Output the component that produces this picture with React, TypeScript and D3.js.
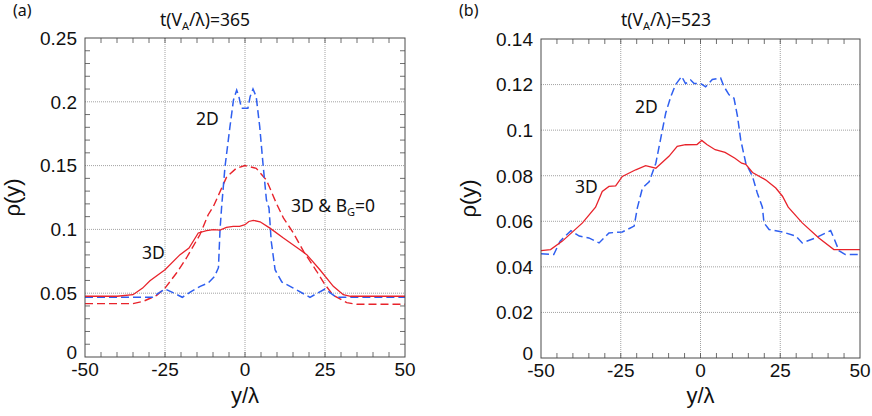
import React from "react";
import * as d3 from "d3";

// ---------- data ----------
const xTicks = [-50, -25, 0, 25, 50];
const yTicksA = [0, 0.05, 0.1, 0.15, 0.2, 0.25];
const yTicksB = [0, 0.02, 0.04, 0.06, 0.08, 0.1, 0.12, 0.14];
const yTickLabelsA = ["0", "0.05", "0.1", "0.15", "0.2", "0.25"];
const yTickLabelsB = ["0", "0.02", "0.04", "0.06", "0.08", "0.1", "0.12", "0.14"];

const a3D: [number, number][] = [
  [-50, 0.0476], [-40, 0.0476], [-35, 0.0488], [-32, 0.054], [-29.7, 0.0598], [-25, 0.0684],
  [-20.3, 0.0802], [-17.5, 0.0854], [-14.6, 0.0972], [-12, 0.099], [-9.9, 0.0998], [-7.8, 0.0995],
  [-5.8, 0.1016], [-3.7, 0.1024], [-1.7, 0.1024], [0, 0.1037], [1.2, 0.1062], [2.6, 0.1071],
  [4.7, 0.106], [7.8, 0.101], [12, 0.0932], [17.2, 0.0841], [19.3, 0.0802], [23.4, 0.0684],
  [27.6, 0.0554], [30.7, 0.0488], [33, 0.0476], [50, 0.0476],
];
const a3DBG0: [number, number][] = [
  [-50, 0.0418], [-35, 0.0418], [-31.8, 0.0436], [-27.6, 0.0483], [-25, 0.054], [-21.4, 0.0658],
  [-18.3, 0.0776], [-14.1, 0.0958], [-11.5, 0.1115], [-9.9, 0.1178], [-5.7, 0.1413], [-2.7, 0.1479],
  [0, 0.15], [3.5, 0.1479], [6.7, 0.1387], [9.8, 0.1204], [12, 0.109], [15.1, 0.0972],
  [18.3, 0.0828], [22.4, 0.0672], [25, 0.0567], [27.6, 0.0483], [31.8, 0.0426], [35, 0.0413], [50, 0.0413],
];
const a2D: [number, number][] = [
  [-50, 0.0468], [-29, 0.0468], [-25, 0.0533], [-22.5, 0.0504], [-19.6, 0.0468], [-17, 0.051],
  [-14, 0.0554], [-11.5, 0.058], [-9.5, 0.0632], [-8.3, 0.07], [-7.8, 0.1], [-7.3, 0.1178],
  [-6.25, 0.1491], [-4.7, 0.1805], [-3.6, 0.2014], [-2.6, 0.2092], [-1.9, 0.204], [-1.1, 0.1949],
  [0.9, 0.1949], [1.6, 0.204], [2.5, 0.21], [3.5, 0.204], [4.6, 0.1805], [5.6, 0.152], [6.7, 0.123],
  [7.5, 0.1168], [8.2, 0.0907], [9.4, 0.0684], [11.5, 0.0588], [15.1, 0.054], [20.3, 0.0468],
  [25, 0.0533], [28.6, 0.0468], [50, 0.0468],
];
const b3D: [number, number][] = [
  [-50, 0.0471], [-47, 0.0476], [-43.3, 0.0513], [-37, 0.0593], [-32.9, 0.0662], [-30.8, 0.0731],
  [-28.7, 0.0753], [-26.6, 0.0755], [-24.5, 0.0797], [-20.3, 0.0826], [-17.2, 0.0844], [-14, 0.0833],
  [-9.9, 0.0885], [-7.3, 0.0929], [-4.7, 0.0936], [-1.1, 0.0937], [0.4, 0.0955], [2, 0.0937],
  [4.6, 0.0914], [7.7, 0.0902], [10.8, 0.0877], [12.9, 0.0855], [14.2, 0.085], [16.3, 0.0814],
  [20.4, 0.0782], [23.6, 0.0746], [25.7, 0.071], [27.5, 0.0662], [31.9, 0.0593], [37.1, 0.0527],
  [41.8, 0.0476], [50, 0.0476],
];
const b2D: [number, number][] = [
  [-50, 0.0457], [-46, 0.0454], [-44, 0.0513], [-40.6, 0.0559], [-38, 0.0535], [-35, 0.0527],
  [-31.8, 0.0505], [-28.7, 0.0549], [-24.5, 0.0553], [-20.8, 0.0579], [-19.8, 0.0659], [-18.2, 0.0746],
  [-16.1, 0.0773], [-14, 0.0855], [-10.9, 0.1075], [-9.3, 0.1148], [-7.8, 0.12], [-5.9, 0.1236],
  [-4.7, 0.1204], [-3.1, 0.122], [-2, 0.1205], [0, 0.1205], [1.6, 0.119], [3.7, 0.1222],
  [6.3, 0.1229], [7.3, 0.1193], [8.9, 0.1156], [10.5, 0.114], [11.6, 0.106], [12.6, 0.0958],
  [14.2, 0.0855], [16.3, 0.0797], [17.8, 0.0724], [19.4, 0.0662], [19.9, 0.0593], [21.5, 0.0564],
  [25.7, 0.0553], [29.9, 0.0535], [31.9, 0.0505], [36, 0.0527], [40.8, 0.0559], [41.8, 0.0527],
  [43.4, 0.0471], [45.4, 0.0454], [50, 0.0454],
];

const RED = "#e8232b";
const BLUE = "#2f5ff0";
const TICK_FONT = "'Liberation Sans', Arial, sans-serif";
const NOTE_FONT = "'Noto Sans', 'Open Sans', sans-serif";

type Series = { data: [number, number][]; color: string; dash?: string; width: number };
type Note = { x: number; y: number; content: React.ReactNode };

function Panel(props: {
  left: number; right: number; top: number; bottom: number;
  yMax: number; yTicks: number[]; yLabels: string[]; yMinor: number[];
  series: Series[]; tag: string; tagX: number; title: string; titleX: number;
  ylabelX: number; notes: Note[];
}) {
  const { left, right, top, bottom } = props;
  const x = d3.scaleLinear().domain([-50, 50]).range([left, right]);
  const y = d3.scaleLinear().domain([0, props.yMax]).range([bottom, top]);
  const line = d3.line<[number, number]>().x((d) => x(d[0])).y((d) => y(d[1]));
  const xMinor = d3.range(-45, 50, 5);
  const frame = "#4a4a4a";
  return (
    <g>
      {/* grid */}
      {xTicks.slice(1, -1).map((t) => (
        <line key={"gx" + t} x1={x(t)} x2={x(t)} y1={top} y2={bottom} stroke="#8a8a8a" strokeWidth={0.8} strokeDasharray="1,1" />
      ))}
      {props.yTicks.slice(1, -1).map((t) => (
        <line key={"gy" + t} x1={left} x2={right} y1={y(t)} y2={y(t)} stroke="#8a8a8a" strokeWidth={0.8} strokeDasharray="1,1" />
      ))}
      {/* minor ticks */}
      {xMinor.map((t) => (
        <g key={"mx" + t}>
          <line x1={x(t)} x2={x(t)} y1={bottom} y2={bottom - 5} stroke={frame} strokeWidth={0.8} />
          <line x1={x(t)} x2={x(t)} y1={top} y2={top + 5} stroke={frame} strokeWidth={0.8} />
        </g>
      ))}
      {props.yMinor.map((t) => (
        <g key={"my" + t}>
          <line x1={left} x2={left + 5} y1={y(t)} y2={y(t)} stroke={frame} strokeWidth={0.8} />
          <line x1={right} x2={right - 5} y1={y(t)} y2={y(t)} stroke={frame} strokeWidth={0.8} />
        </g>
      ))}
      {/* series */}
      {props.series.map((s, i) => (
        <path key={i} d={line(s.data) || ""} fill="none" stroke={s.color} strokeWidth={s.width} strokeDasharray={s.dash} />
      ))}
      {/* frame */}
      <rect x={left} y={top} width={right - left} height={bottom - top} fill="none" stroke={frame} strokeWidth={1} />
      {/* tick labels */}
      {xTicks.map((t) => (
        <text key={"xl" + t} x={x(t)} y={bottom + 19} textAnchor="middle" fontFamily={TICK_FONT} fontSize={19} fill="#111">
          {t}
        </text>
      ))}
      {props.yTicks.map((t, i) => (
        <text key={"yl" + t} x={left - 8} y={y(t) - (i === 0 ? 5 : 0)} dy="0.36em" textAnchor="end" fontFamily={TICK_FONT} fontSize={19} fill="#111">
          {props.yLabels[i]}
        </text>
      ))}
      {/* axis labels */}
      <text x={(left + right) / 2} y={403} textAnchor="middle" fontFamily={TICK_FONT} fontSize={22} fill="#111">y/λ</text>
      <text transform={`translate(${props.ylabelX},${(top + bottom) / 2}) rotate(-90)`} textAnchor="middle" fontFamily={TICK_FONT} fontSize={22} fill="#111">ρ(y)</text>
      {/* tag & title */}
      <text x={props.tagX} y={16} fontFamily={NOTE_FONT} fontSize={16} fill="#111">{props.tag}</text>
      <text x={props.titleX} y={26} textAnchor="middle" fontFamily={NOTE_FONT} fontSize={17.5} fill="#111">
        t(V<tspan fontSize={11} dy={4}>A</tspan><tspan dy={-4}>/λ)={props.title}</tspan>
      </text>
      {props.notes.map((n, i) => (
        <text key={"n" + i} x={n.x} y={n.y} fontFamily={NOTE_FONT} fontSize={17.5} fill="#111">{n.content}</text>
      ))}
    </g>
  );
}

export default function App() {
  return (
    <svg width={872} height={416} style={{ position: "absolute", left: 0, top: 0, background: "#fff" }}>
      <Panel
        left={85} right={405} top={38} bottom={357}
        yMax={0.25} yTicks={yTicksA} yLabels={yTickLabelsA}
        yMinor={d3.range(1, 25).map((k) => k / 100).filter((v) => Math.round(v * 100) % 5 !== 0)}
        series={[
          { data: a3DBG0, color: RED, dash: "8,4", width: 1.4 },
          { data: a2D, color: BLUE, dash: "8,4", width: 1.5 },
          { data: a3D, color: RED, width: 1.3 },
        ]}
        tag="(a)" tagX={13} title="365" titleX={205} ylabelX={20}
        notes={[
          { x: 196, y: 125, content: "2D" },
          { x: 142, y: 259, content: "3D" },
          { x: 291, y: 212, content: (<>3D &amp; B<tspan fontSize={11} dy={4}>G</tspan><tspan dy={-4}>=0</tspan></>) },
        ]}
      />
      <Panel
        left={541} right={860} top={39} bottom={358}
        yMax={0.14} yTicks={yTicksB} yLabels={yTickLabelsB} yMinor={[]}
        series={[
          { data: b2D, color: BLUE, dash: "8,4", width: 1.5 },
          { data: b3D, color: RED, width: 1.3 },
        ]}
        tag="(b)" tagX={459} title="523" titleX={666} ylabelX={476}
        notes={[
          { x: 635, y: 113, content: "2D" },
          { x: 575, y: 193, content: "3D" },
        ]}
      />
    </svg>
  );
}
